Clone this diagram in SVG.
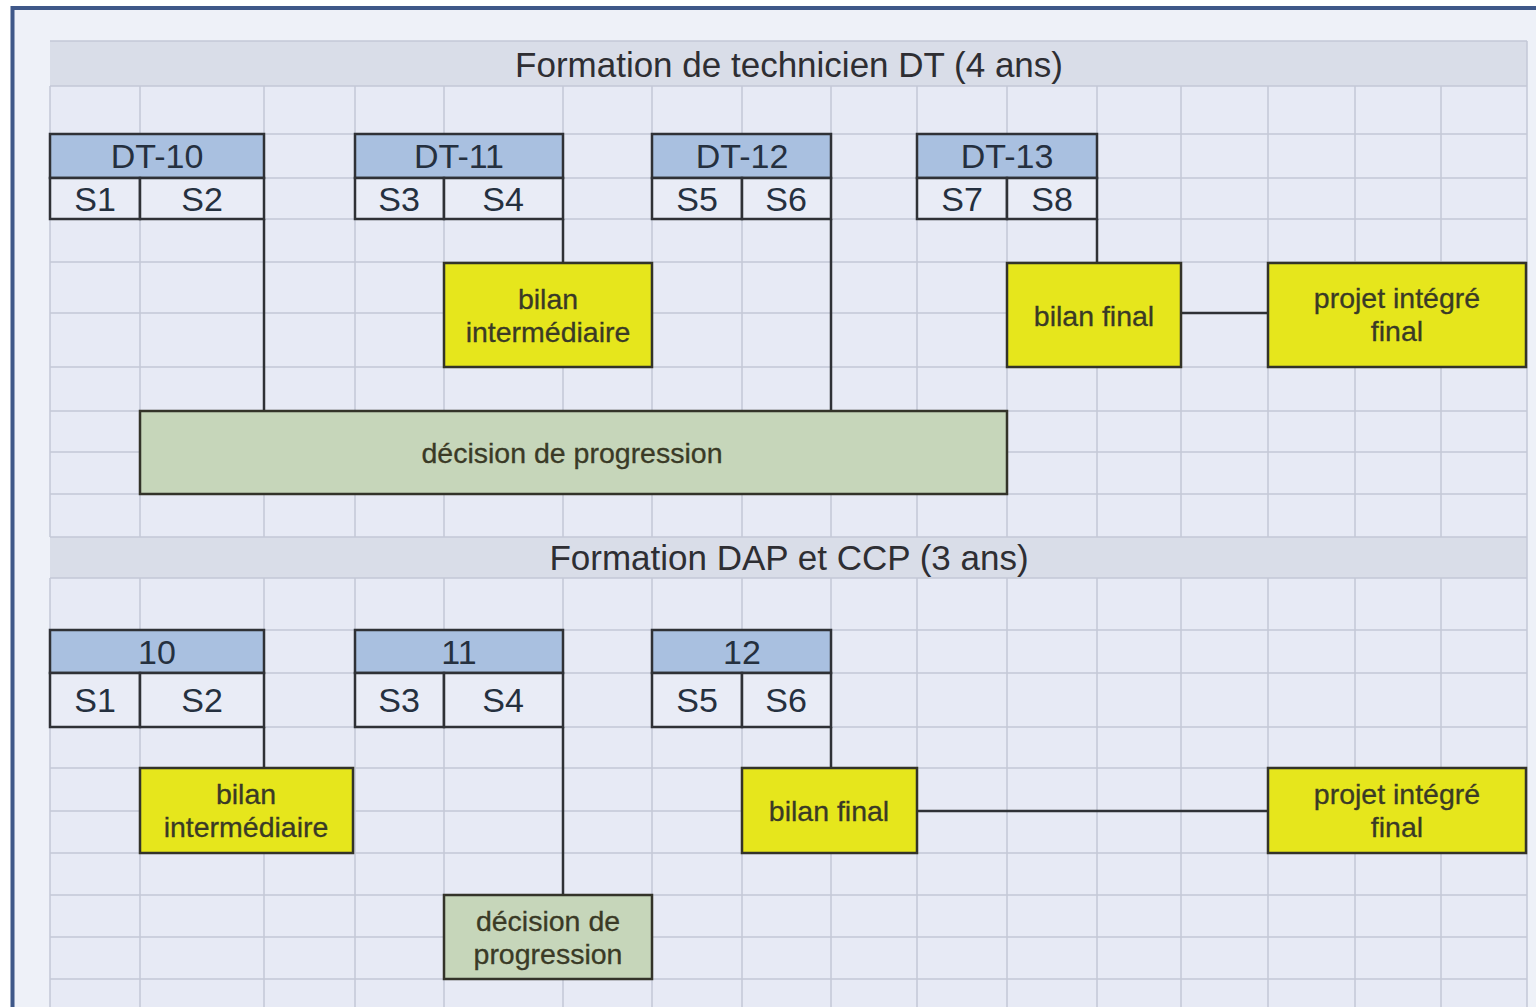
<svg xmlns="http://www.w3.org/2000/svg" width="1536" height="1007" viewBox="0 0 1536 1007">
<style>
.grid{stroke:#c3c8d6;stroke-width:1.5;fill:none}
.band{fill:#d9dde8}
.title{font-family:"Liberation Sans",Arial,sans-serif;font-size:35px;fill:#2e2e33;text-anchor:middle}
.hdr{fill:#a9c0e0;stroke:#2f3136;stroke-width:2.5}
.cell{fill:#e9ecf6;stroke:#2f3136;stroke-width:2.5}
.lbl{font-family:"Liberation Sans",Arial,sans-serif;font-size:34px;fill:#25303f;text-anchor:middle}
.yel{fill:#e6e61c;stroke:#333329;stroke-width:2.5}
.grn{fill:#c6d6ba;stroke:#333329;stroke-width:2.5}
.txt{font-family:"Liberation Sans",Arial,sans-serif;font-size:28.5px;fill:#3a3a26;text-anchor:middle;stroke:#3a3a26;stroke-width:0.3}
.conn{stroke:#2f3136;stroke-width:2.5;fill:none}
</style>
<g id="background">
<rect x="0" y="0" width="1536" height="1007" fill="#ffffff"/>
<rect x="12" y="8" width="1524" height="999" fill="#eef1f8"/>
<rect x="50" y="41" width="1477" height="966" fill="#e7eaf5"/>
<rect class="band" x="50" y="41" width="1477" height="45"/>
<rect class="band" x="50" y="537" width="1477" height="41"/>
<path d="M12.5 1007 V8 H1536" stroke="#3f5889" stroke-width="4" fill="none"/>
</g>
<g id="grid">
<path class="grid" d="M50 86V537M140 86V537M264 86V537M355 86V537M444 86V537M563 86V537M652 86V537M742 86V537M831 86V537M917 86V537M1007 86V537M1097 86V537M1181 86V537M1268 86V537M1355 86V537M1441 86V537M1527 41V1007M50 578V1007M140 578V1007M264 578V1007M355 578V1007M444 578V1007M563 578V1007M652 578V1007M742 578V1007M831 578V1007M917 578V1007M1007 578V1007M1097 578V1007M1181 578V1007M1268 578V1007M1355 578V1007M1441 578V1007"/>
<path class="grid" d="M50 41H1527M50 86H1527M50 134H1527M50 178H1527M50 219H1527M50 262H1527M50 313H1527M50 367H1527M50 411H1527M50 452H1527M50 494H1527M50 537H1527M50 578H1527M50 630H1527M50 673H1527M50 727H1527M50 768H1527M50 811H1527M50 853H1527M50 895H1527M50 937H1527M50 979H1527"/>
</g>
<g id="titles">
<text class="title" x="789" y="77">Formation de technicien DT (4 ans)</text>
<text class="title" x="789" y="570">Formation DAP et CCP (3 ans)</text>
</g>
<g id="connectors">
<path class="conn" d="M264 219V411"/>
<path class="conn" d="M563 219V262"/>
<path class="conn" d="M831 219V411"/>
<path class="conn" d="M1097 219V262"/>
<path class="conn" d="M1181 313H1268"/>
<path class="conn" d="M264 727V768"/>
<path class="conn" d="M563 727V895"/>
<path class="conn" d="M831 727V768"/>
<path class="conn" d="M917 811H1268"/>
</g>
<g id="dt10">
<rect class="hdr" x="50" y="134" width="214" height="44"/>
<rect class="cell" x="50" y="178" width="90" height="41"/>
<rect class="cell" x="140" y="178" width="124" height="41"/>
<text class="lbl" x="157" y="168">DT-10</text>
<text class="lbl" x="95" y="211">S1</text>
<text class="lbl" x="202" y="211">S2</text>
</g>
<g id="dt11">
<rect class="hdr" x="355" y="134" width="208" height="44"/>
<rect class="cell" x="355" y="178" width="89" height="41"/>
<rect class="cell" x="444" y="178" width="119" height="41"/>
<text class="lbl" x="459" y="168">DT-11</text>
<text class="lbl" x="399" y="211">S3</text>
<text class="lbl" x="503" y="211">S4</text>
</g>
<g id="dt12">
<rect class="hdr" x="652" y="134" width="179" height="44"/>
<rect class="cell" x="652" y="178" width="90" height="41"/>
<rect class="cell" x="742" y="178" width="89" height="41"/>
<text class="lbl" x="742" y="168">DT-12</text>
<text class="lbl" x="697" y="211">S5</text>
<text class="lbl" x="786" y="211">S6</text>
</g>
<g id="dt13">
<rect class="hdr" x="917" y="134" width="180" height="44"/>
<rect class="cell" x="917" y="178" width="90" height="41"/>
<rect class="cell" x="1007" y="178" width="90" height="41"/>
<text class="lbl" x="1007" y="168">DT-13</text>
<text class="lbl" x="962" y="211">S7</text>
<text class="lbl" x="1052" y="211">S8</text>
</g>
<g id="bilan-intermediaire-dt">
<rect class="yel" x="444" y="263" width="208" height="104"/>
<text class="txt" x="548" y="309">bilan</text>
<text class="txt" x="548" y="342">intermédiaire</text>
</g>
<g id="bilan-final-dt">
<rect class="yel" x="1007" y="263" width="174" height="104"/>
<text class="txt" x="1094" y="326">bilan final</text>
</g>
<g id="projet-dt">
<rect class="yel" x="1268" y="263" width="258" height="104"/>
<text class="txt" x="1397" y="308">projet intégré</text>
<text class="txt" x="1397" y="341">final</text>
</g>
<g id="decision-dt">
<rect class="grn" x="140" y="411" width="867" height="83"/>
<text class="txt" x="572" y="463">décision de progression</text>
</g>
<g id="y10">
<rect class="hdr" x="50" y="630" width="214" height="43"/>
<rect class="cell" x="50" y="673" width="90" height="54"/>
<rect class="cell" x="140" y="673" width="124" height="54"/>
<text class="lbl" x="157" y="664">10</text>
<text class="lbl" x="95" y="712">S1</text>
<text class="lbl" x="202" y="712">S2</text>
</g>
<g id="y11">
<rect class="hdr" x="355" y="630" width="208" height="43"/>
<rect class="cell" x="355" y="673" width="89" height="54"/>
<rect class="cell" x="444" y="673" width="119" height="54"/>
<text class="lbl" x="459" y="664">11</text>
<text class="lbl" x="399" y="712">S3</text>
<text class="lbl" x="503" y="712">S4</text>
</g>
<g id="y12">
<rect class="hdr" x="652" y="630" width="179" height="43"/>
<rect class="cell" x="652" y="673" width="90" height="54"/>
<rect class="cell" x="742" y="673" width="89" height="54"/>
<text class="lbl" x="742" y="664">12</text>
<text class="lbl" x="697" y="712">S5</text>
<text class="lbl" x="786" y="712">S6</text>
</g>
<g id="bilan-intermediaire-dap">
<rect class="yel" x="140" y="768" width="213" height="85"/>
<text class="txt" x="246" y="804">bilan</text>
<text class="txt" x="246" y="837">intermédiaire</text>
</g>
<g id="decision-dap">
<rect class="grn" x="444" y="895" width="208" height="84"/>
<text class="txt" x="548" y="931">décision de</text>
<text class="txt" x="548" y="964">progression</text>
</g>
<g id="bilan-final-dap">
<rect class="yel" x="742" y="768" width="175" height="85"/>
<text class="txt" x="829" y="821">bilan final</text>
</g>
<g id="projet-dap">
<rect class="yel" x="1268" y="768" width="258" height="85"/>
<text class="txt" x="1397" y="804">projet intégré</text>
<text class="txt" x="1397" y="837">final</text>
</g>
</svg>
